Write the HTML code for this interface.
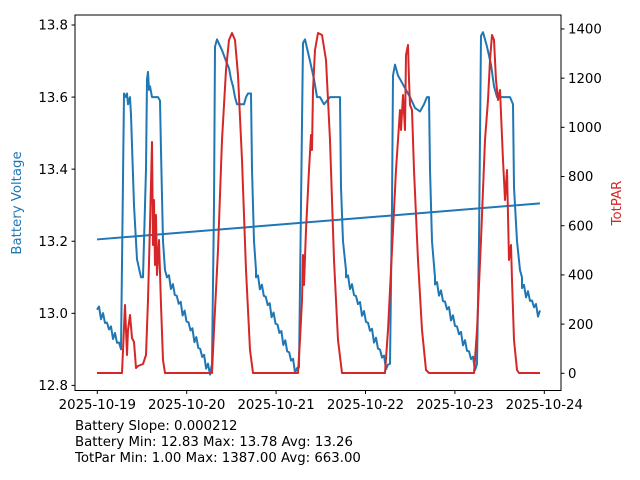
<!DOCTYPE html>
<html><head><meta charset="utf-8"><style>
body{margin:0;background:#fff;}
svg{display:block;font-family:"DejaVu Sans","Liberation Sans",sans-serif;}
</style></head><body>
<svg id="s" width="640" height="480" viewBox="0 0 640 480" xmlns="http://www.w3.org/2000/svg">
<rect width="640" height="480" fill="#fff"/>
<g id="plot"></g>
<rect x="75" y="15" width="486" height="375.5" fill="none" stroke="#000" stroke-width="1"/>
<g font-size="13.3" fill="#000">
<g id="ticks"></g>
<text x="21" y="203" fill="#1f77b4" text-anchor="middle" transform="rotate(-90 21 203)">Battery Voltage</text>
<text x="621" y="203" fill="#d62728" text-anchor="middle" transform="rotate(-90 621 203)">TotPAR</text>
<text x="75" y="430">Battery Slope: 0.000212</text>
<text x="75" y="446">Battery Min: 12.83 Max: 13.78 Avg: 13.26</text>
<text x="75" y="462">TotPar Min: 1.00 Max: 1387.00 Avg: 663.00</text>
</g>
</svg>
<script>
var NS="http://www.w3.org/2000/svg";
function el(p,t,a,txt){var e=document.createElementNS(NS,t);for(var k in a)e.setAttribute(k,a[k]);if(txt)e.textContent=txt;p.appendChild(e);return e;}
function by(v){return 25+(13.8-v)*360.4;}
var B=[["d",97,13.01,121,12.9],[124,13.61],[126,13.6],[127,13.61],[128,13.58],[130,13.6],[131,13.55],[134,13.3],[137,13.15],[141,13.1],[143,13.1],[146,13.4],[147,13.65],[148,13.67],[149,13.62],[150,13.63],[152,13.6],[158,13.6],[160,13.59],[161,13.45],[163,13.2],[165,13.12],[167,13.1],
["d",167,13.1,210,12.83],[212,12.86],[214,13.3],[215,13.74],[217,13.76],[222,13.73],[226,13.7],[229,13.68],[231,13.65],[233,13.63],[235,13.6],[237,13.58],[244,13.58],[246,13.6],[248,13.61],[251,13.61],[252,13.4],[254,13.2],[256,13.12],
["d",256,13.1,297,12.83],[299,12.85],[301,13.3],[303,13.75],[305,13.76],[310,13.7],[314,13.65],[317,13.6],[320,13.6],[324,13.58],[330,13.6],[340,13.6],[341,13.35],[343,13.2],[346,13.12],
["d",346,13.1,388,12.84],[390,12.86],[392,13.3],[393,13.66],[395,13.69],[398,13.66],[402,13.64],[406,13.62],[410,13.6],[415,13.57],[420,13.56],[424,13.58],[427,13.6],[429,13.6],[430,13.4],[432,13.2],[435,13.1],
["d",435,13.08,475,12.85],[477,12.86],[479,13.2],[481,13.77],[483,13.78],[487,13.74],[491,13.69],[494,13.63],[497,13.6],[505,13.6],[510,13.6],[513,13.58],[514,13.35],[517,13.2],[520,13.12],[522,13.1],
["d",522,13.07,540,12.99]];
var pts=[];
B.forEach(function(s){
 if(s[0]==="d"){var x0=s[1],v0=s[2],x1=s[3],v1=s[4];var n=Math.round((x1-x0)/2);
  for(var i=0;i<=n;i++){var x=x0+(x1-x0)*i/n,v=v0+(v1-v0)*i/n;if(i%2==1)v+=0.018;if(i%3==2)v-=0.008;pts.push([x,by(v)]);}}
 else pts.push([s[0],by(s[1])]);
});
var plot=document.getElementById("plot");
el(plot,"polyline",{points:pts.map(function(p){return p[0].toFixed(1)+","+p[1].toFixed(1)}).join(" "),fill:"none",stroke:"#1f77b4","stroke-width":2,"stroke-linejoin":"round"});
el(plot,"line",{x1:97,y1:by(13.205),x2:540,y2:by(13.305),stroke:"#1f77b4","stroke-width":2});
var R=[[97,373],[122,373],[125,305],[127,355],[128,330],[130,315],[132,338],[134,342],[136,368],[138,366],[143,364],[146,355],[148,300],[150,225],[152,142],[153,245],[154,200],[155,265],[156,215],[157,275],[159,240],[161,305],[163,360],[165,373],[212,373],[214,330],[218,250],[222,140],[226,70],[229,40],[232,33],[235,40],[238,75],[242,160],[246,270],[250,350],[253,373],[298,373],[300,340],[302,300],[303,255],[304,285],[306,230],[309,170],[311,135],[312,150],[313,90],[315,50],[318,33],[322,35],[326,60],[330,140],[334,260],[338,340],[342,373],[385,373],[388,330],[392,250],[396,170],[400,110],[401,130],[403,95],[405,130],[406,55],[408,45],[409,80],[410,105],[412,110],[414,170],[418,260],[422,330],[426,370],[429,373],[474,373],[477,330],[481,240],[485,140],[488,100],[490,60],[492,35],[494,40],[496,80],[498,100],[500,90],[503,160],[505,200],[507,170],[509,260],[511,245],[512,280],[514,340],[517,370],[519,373],[540,373]];
el(plot,"polyline",{points:R.map(function(p){return p.join(",")}).join(" "),fill:"none",stroke:"#d62728","stroke-width":2,"stroke-linejoin":"round"});
var T=document.getElementById("ticks");
[12.8,13.0,13.2,13.4,13.6,13.8].forEach(function(v){var y=by(v);el(T,"line",{x1:71.5,x2:75,y1:y,y2:y,stroke:"#000"});el(T,"text",{x:68,y:y+4.7,"text-anchor":"end"},v.toFixed(1));});
[0,200,400,600,800,1000,1200,1400].forEach(function(v){var y=373.3-v*0.24596;el(T,"line",{x1:561,x2:564.5,y1:y,y2:y,stroke:"#000"});el(T,"text",{x:568,y:y+4.7},String(v));});
for(var d=0;d<6;d++){var x=97.3+d*89.4;el(T,"line",{x1:x,x2:x,y1:390.5,y2:394,stroke:"#000"});el(T,"text",{x:x,y:409,"text-anchor":"middle"},"2025-10-"+(19+d));}
</script>
</body></html>
